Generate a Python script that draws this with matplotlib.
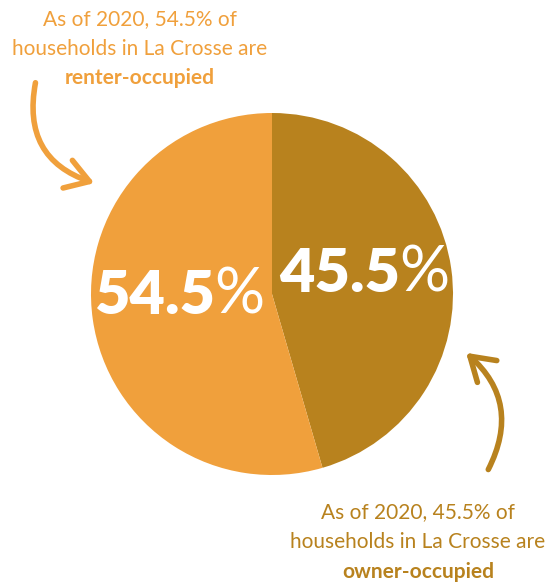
import matplotlib
matplotlib.use("Agg")
import matplotlib.pyplot as plt
from matplotlib.patches import FancyArrowPatch

categories = ["Owner-occupied", "Renter-occupied"]
shares = [45.5, 54.5]
colors = ["#B8821E", "#F0A03C"]
value_labels = ["45.5", "54.5"]
notes = [
    ["As of 2020, 45.5% of", "households in La Crosse are", "owner-occupied"],
    ["As of 2020, 54.5% of", "households in La Crosse are", "renter-occupied"],
]

FONT = ["Lato", "DejaVu Sans"]

fig = plt.figure(figsize=(5.48, 5.86), dpi=100)
ax = fig.add_axes([0, 0, 1, 1])
ax.pie(shares, colors=colors, startangle=-90, counterclock=True,
       center=(272, 294), radius=181, wedgeprops=dict(linewidth=0))
ax.set_xlim(0, 548)
ax.set_ylim(586, 0)
ax.set_aspect("equal")
ax.axis("off")

def big(x, y, num):
    t = ax.text(x, y, num, color="white", fontsize=44, fontweight="heavy",
                family=FONT, ha="left", va="baseline")
    fig.canvas.draw()
    bb = t.get_window_extent().transformed(ax.transData.inverted())
    ax.text(bb.x1 - 1, y, "%", color="white", fontsize=45, fontweight="normal",
            family=FONT, ha="left", va="baseline")

big(94, 314, value_labels[1])
big(279, 292, value_labels[0])

def note(x, ys, lines, color):
    for i, (yy, s) in enumerate(zip(ys, lines)):
        ax.text(x, yy, s, color=color, fontsize=15,
                fontweight="bold" if i == 2 else "normal",
                family=FONT, ha="center", va="center")

note(140, [19, 49, 78], notes[1], colors[1])
note(418, [512, 542, 572], notes[0], colors[0])

a1 = FancyArrowPatch((36, 80), (97, 184), connectionstyle="arc3,rad=0.45",
                     arrowstyle="->,head_length=5.5,head_width=3.5", color=colors[1],
                     lw=4, mutation_scale=3, capstyle="round")
ax.add_patch(a1)
a2 = FancyArrowPatch((487, 472), (464, 351), connectionstyle="arc3,rad=0.4",
                     arrowstyle="->,head_length=5.5,head_width=3.5", color=colors[0],
                     lw=4, mutation_scale=3, capstyle="round")
ax.add_patch(a2)

fig.savefig("out.png", dpi=100)
